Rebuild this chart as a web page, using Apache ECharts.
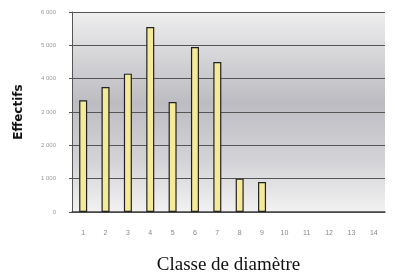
<!DOCTYPE html>
<html>
<head>
<meta charset="utf-8">
<script src="https://cdn.jsdelivr.net/npm/echarts@6/dist/echarts.min.js"></script>
<style>
  html, body { margin: 0; padding: 0; background: #fff; }
  #chart { width: 395px; height: 278px; }
</style>
</head>
<body>
<div id="chart"></div>
<script>
// classes de diamètre et effectifs
var classes = ['1', '2', '3', '4', '5', '6', '7', '8', '9', '10', '11', '12', '13', '14'];
var effectifs = [3350, 3750, 4150, 5550, 3300, 4950, 4500, 1000, 900, 0, 0, 0, 0, 0];
var yTicks = [0, 1000, 2000, 3000, 4000, 5000, 6000];

var dom = document.getElementById('chart');
var myChart = echarts.init(dom);

// pas de contour pour les classes vides
var barData = effectifs.map(function (v) {
    return v === 0 ? { value: v, itemStyle: { borderWidth: 0 } } : v;
});

var option = {
    animation: false,
    grid: {
        left: 72, right: 10, top: 12, bottom: 66,
        containLabel: false,
        outerBoundsMode: 'none',
        show: true,
        borderWidth: 0,
        backgroundColor: {
            type: 'linear', x: 0, y: 0, x2: 0, y2: 1,
            colorStops: [
                { offset: 0, color: '#eeeeef' },
                { offset: 0.45, color: '#bcbcc2' },
                { offset: 0.75, color: '#d4d4d8' },
                { offset: 1, color: '#f2f2f2' }
            ]
        }
    },
    xAxis: {
        type: 'category',
        data: classes,
        name: 'Classe de diamètre',
        nameLocation: 'middle',
        nameGap: 44,
        nameTextStyle: { fontFamily: 'Liberation Serif', fontSize: 19, color: '#111' },
        axisLine: { lineStyle: { color: '#444', width: 1.5 } },
        axisTick: { show: false },
        axisLabel: { fontSize: 7, color: '#888', margin: 18 }
    },
    yAxis: {
        type: 'value',
        min: yTicks[0],
        max: yTicks[yTicks.length - 1],
        interval: 1000,
        name: 'Effectifs',
        nameLocation: 'middle',
        nameGap: 47,
        nameTextStyle: { fontFamily: 'DejaVu Sans', fontWeight: 'bold', fontSize: 12, color: '#111' },
        axisLine: { show: true, lineStyle: { color: '#555' } },
        axisTick: { show: true, length: 3, lineStyle: { color: '#555' } },
        axisLabel: {
            fontSize: 6, color: '#999', margin: 16,
            formatter: function (v) { return v === 0 ? '0' : (v / 1000) + ' 000'; }
        },
        splitLine: { lineStyle: { color: '#555', width: 1 } }
    },
    series: [
        {
            name: 'Effectifs',
            type: 'bar',
            data: barData,
            barWidth: 8,
            itemStyle: { color: '#f4ea98', borderColor: '#222', borderWidth: 1.2 }
        }
    ]
};

myChart.setOption(option, true);
</script>
</body>
</html>
